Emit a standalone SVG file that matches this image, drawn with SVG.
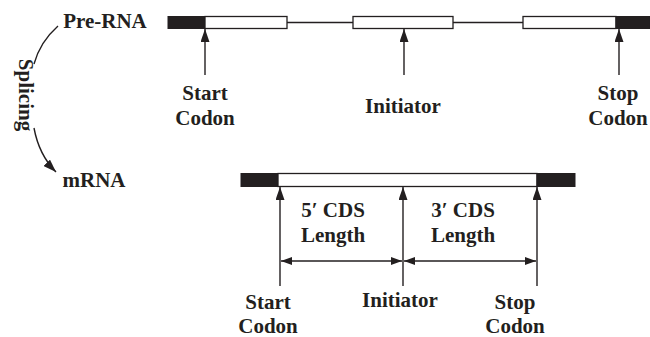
<svg xmlns="http://www.w3.org/2000/svg" width="650" height="337" viewBox="0 0 650 337">
<defs>
<style>
text{font-family:"Liberation Serif","Times New Roman",serif;font-weight:bold;font-size:21px;fill:#231f20;text-anchor:middle}
.blk{fill:#231f20;stroke:#231f20;stroke-width:1}
.wht{fill:#fff;stroke:#231f20;stroke-width:1.3}
.ln{stroke:#231f20;stroke-width:1.4;fill:none}
</style>
<marker id="ah" viewBox="0 0 13 9" refX="13" refY="4.5" markerWidth="13" markerHeight="9" markerUnits="userSpaceOnUse" orient="auto"><path d="M0,0 L13,4.5 L0,9 Z" fill="#231f20"/></marker>
<marker id="dh" viewBox="0 0 11 8" refX="11" refY="4" markerWidth="11" markerHeight="8" markerUnits="userSpaceOnUse" orient="auto-start-reverse"><path d="M0,0 L11,4 L0,8 Z" fill="#231f20"/></marker>
</defs>
<rect width="650" height="337" fill="#fff"/>
<g id="labels-left">
<text x="105" y="28">Pre-RNA</text>
<text x="94" y="187">mRNA</text>
<text transform="translate(19,95) rotate(90)" font-size="20">Splicing</text>
</g>
<g id="pre-rna">
<line class="ln" x1="287" y1="22.5" x2="353" y2="22.5"/>
<line class="ln" x1="453" y1="22.5" x2="523" y2="22.5"/>
<rect class="blk" x="168" y="16.5" width="37" height="12"/>
<rect class="wht" x="205" y="16.5" width="82" height="12"/>
<rect class="wht" x="353" y="16.5" width="100" height="12"/>
<rect class="wht" x="523" y="16.5" width="93" height="12"/>
<rect class="blk" x="616" y="16.5" width="34" height="12"/>
</g>
<g id="mrna">
<rect class="blk" x="241" y="173.5" width="37" height="13"/>
<rect class="wht" x="278" y="173.5" width="259" height="13"/>
<rect class="blk" x="537" y="173.5" width="38" height="13"/>
</g>
<g id="connectors">
<path class="ln" d="M58,26 Q40,42 34,64"/>
<path class="ln" d="M34,128 Q39,155 56,172" marker-end="url(#ah)"/>
<line class="ln" x1="205" y1="75" x2="205" y2="29" marker-end="url(#ah)"/>
<line class="ln" x1="404" y1="75" x2="404" y2="29" marker-end="url(#ah)"/>
<line class="ln" x1="619" y1="75" x2="619" y2="29" marker-end="url(#ah)"/>
<line class="ln" x1="280" y1="286" x2="280" y2="187" marker-end="url(#ah)"/>
<line class="ln" x1="403" y1="286" x2="403" y2="187" marker-end="url(#ah)"/>
<line class="ln" x1="537" y1="286" x2="537" y2="187" marker-end="url(#ah)"/>
<line class="ln" x1="281" y1="261" x2="402" y2="261" marker-start="url(#dh)" marker-end="url(#dh)"/>
<line class="ln" x1="404" y1="261" x2="536" y2="261" marker-start="url(#dh)" marker-end="url(#dh)"/>
</g>
<g id="top-labels">
<text x="205" y="100">Start</text>
<text x="205" y="125">Codon</text>
<text x="403" y="113">Initiator</text>
<text x="618" y="100">Stop</text>
<text x="618" y="125">Codon</text>
</g>
<g id="bottom-labels">
<text x="333" y="217">5′ CDS</text>
<text x="333" y="242">Length</text>
<text x="463" y="217">3′ CDS</text>
<text x="463" y="242">Length</text>
<text x="268" y="309">Start</text>
<text x="268" y="333">Codon</text>
<text x="400" y="307">Initiator</text>
<text x="515" y="309">Stop</text>
<text x="515" y="333">Codon</text>
</g>
</svg>
